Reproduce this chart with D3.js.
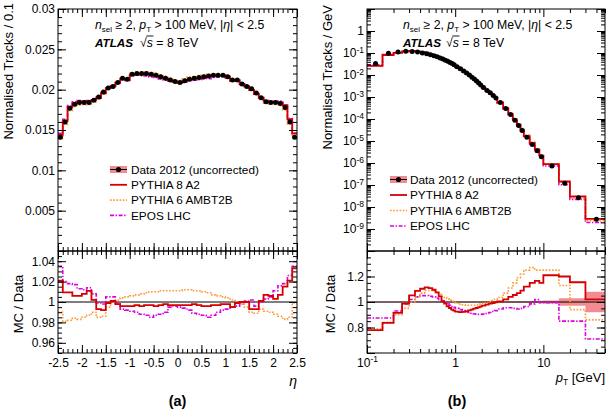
<!DOCTYPE html>
<html><head><meta charset="utf-8">
<script src="https://cdn.jsdelivr.net/npm/d3@7/dist/d3.min.js"></script>
<style>
html,body{margin:0;padding:0;background:#fff;}
svg text{font-family:"Liberation Sans",Arial,Helvetica,sans-serif;fill:#000;white-space:pre;}
</style></head>
<body>
<svg id="chart" width="610" height="410" xml:space="preserve"></svg>
<script>
// ================= DATA =================
const seriesNames = ["Data 2012 (uncorrected)", "PYTHIA 8 A2", "PYTHIA 6 AMBT2B", "EPOS LHC"];

// eta distribution: 50 bins of 0.1
const etaEdges = [-2.5,-2.4,-2.3,-2.2,-2.1,-2.0,-1.9,-1.8,-1.7,-1.6,-1.5,-1.4,-1.3,-1.2,-1.1,-1.0,-0.9,-0.8,-0.7,-0.6,-0.5,-0.4,-0.3,-0.2,-0.1,0,
  0.1,0.2,0.3,0.4,0.5,0.6,0.7,0.8,0.9,1.0,1.1,1.2,1.3,1.4,1.5,1.6,1.7,1.8,1.9,2.0,2.1,2.2,2.3,2.4,2.5];
const etaData = [0.0141,0.0160,0.0177,0.0182,0.0184,0.0184,0.0184,0.0187,0.0191,0.0197,0.0202,0.0204,0.0209,0.0214,0.0213,0.0219,0.0220,0.0220,0.0220,0.0219,0.0218,0.0216,0.0214,0.0212,0.0210,
  0.0209,0.0211,0.0213,0.0214,0.0215,0.0216,0.0217,0.0218,0.0218,0.0218,0.0216,0.0212,0.0212,0.0207,0.0204,0.0201,0.0196,0.0190,0.0185,0.0184,0.0184,0.0183,0.0178,0.0160,0.0141];
const etaRatioPythia8 = [1.021,1.0095,1.0095,1.006,1.006,1.008,1.011,1.002,0.993,0.992,0.999,1.001,0.998,0.996,0.996,0.996,0.997,0.996,0.997,0.997,0.996,0.997,0.998,0.997,0.997,
  0.997,0.997,0.997,0.998,0.997,0.996,0.996,0.997,0.997,0.998,0.998,0.995,0.999,1.000,1.000,0.993,0.993,1.001,1.007,1.006,1.003,1.007,1.015,1.021,1.033];
const etaRatioPythia6 = [0.990,0.981,0.982,0.984,0.983,0.985,0.987,0.990,0.985,0.986,0.995,1.000,1.002,1.004,1.005,1.006,1.007,1.008,1.009,1.010,1.010,1.011,1.011,1.011,1.011,
  1.011,1.012,1.012,1.011,1.011,1.010,1.009,1.007,1.006,1.005,1.004,1.002,1.000,0.998,0.995,0.990,0.989,0.993,0.991,0.990,0.988,0.986,0.983,0.985,0.999];
const etaRatioEpos = [1.035,1.020,1.018,1.017,1.013,1.012,1.014,1.008,0.999,0.998,1.005,1.005,0.999,0.993,0.992,0.991,0.990,0.988,0.987,0.985,0.987,0.988,0.990,0.995,0.996,
  0.995,0.994,0.992,0.989,0.988,0.987,0.985,0.987,0.990,0.992,0.993,0.995,0.996,0.998,1.001,1.002,0.996,1.000,1.003,1.005,1.011,1.016,1.018,1.026,1.035];

// pT distribution: 47 variable-width bins [GeV]
const ptEdges = [0.1,0.15,0.2,0.25,0.3,0.35,0.4,0.45,0.5,0.55,0.6,0.65,0.7,0.75,0.8,0.85,0.9,0.95,1.0,
  1.1,1.2,1.3,1.4,1.5,1.6,1.7,1.8,1.9,2.0,2.2,2.4,2.6,2.8,3.0,3.5,4.0,4.5,5.0,5.5,6.0,7.0,8.0,9.0,10,15,20,30,50];
const ptData = [0.033,0.097,0.112,0.120,0.118,0.110,0.101,0.092,0.083,0.075,0.067,0.060,0.053,0.047,0.042,0.037,0.033,0.029,
  0.024,0.0190,0.0152,0.0122,0.0099,0.0080,0.0065,0.0053,0.0043,0.0035,
  0.0027,0.0020,0.00155,0.00118,0.00090,
  0.00056,0.00030,0.000160,0.000088,0.000050,0.000030,
  0.0000150,0.0000070,0.0000036,0.0000019,
  7.3e-7,1.2e-7,2.6e-8,2.8e-9];
const ptDataRelErr = [0.004,0.004,0.004,0.004,0.004,0.004,0.004,0.004,0.004,0.004,0.004,0.004,0.004,0.004,0.004,0.004,0.004,0.004,
  0.004,0.004,0.004,0.004,0.004,0.004,0.004,0.004,0.004,0.004,
  0.005,0.005,0.005,0.005,0.005,
  0.005,0.005,0.005,0.006,0.006,0.006,
  0.006,0.007,0.008,0.009,
  0.012,0.03,0.03,0.08];
const ptRatioPythia8 = [0.78,0.836,0.914,0.987,1.052,1.088,1.104,1.114,1.109,1.096,1.075,1.044,1.005,0.987,0.966,0.953,0.940,0.932,
  0.925,0.920,0.922,0.927,0.935,0.940,0.948,0.953,0.958,0.964,
  0.971,0.979,0.987,0.992,0.997,
  1.005,1.020,1.040,1.055,1.070,1.090,
  1.120,1.150,1.165,1.150,
  1.210,1.200,1.155,1.020];
const ptRatioPythia6 = [0.79,0.84,0.90,0.95,1.00,1.04,1.07,1.09,1.09,1.085,1.075,1.06,1.045,1.035,1.025,1.015,1.005,0.998,
  0.990,0.983,0.978,0.975,0.974,0.974,0.975,0.977,0.980,0.983,
  0.988,0.995,1.003,1.012,1.022,
  1.035,1.070,1.110,1.150,1.190,1.220,
  1.250,1.270,1.250,1.250,
  1.250,1.130,0.940,0.860];
const ptRatioEpos = [0.875,0.875,0.93,0.985,1.02,1.04,1.05,1.05,1.045,1.04,1.03,1.02,1.01,0.995,0.985,0.975,0.965,0.958,
  0.950,0.940,0.932,0.925,0.918,0.912,0.908,0.905,0.903,0.903,
  0.905,0.910,0.918,0.925,0.932,
  0.945,0.955,0.955,0.950,0.945,0.950,
  0.965,0.985,1.020,0.995,
  0.995,0.850,0.850,0.710];

// tick labels
const etaTickLabels = ["-2.5","-2","-1.5","-1","-0.5","0","0.5","1","1.5","2","2.5"];
const etaYTickLabels = ["0.005","0.01","0.015","0.02","0.025","0.03"];
const etaRatioTickLabels = ["0.96","0.98","1","1.02","1.04"];
const ptRatioTickLabels = ["0.8","1","1.2"];

// ================= STYLE / LAYOUT =================
const FONT = '"Liberation Sans",Arial,Helvetica,sans-serif';
const mcStyle = [
  {color:"#d50000", width:1.8, dash:null},
  {color:"#ff9933", width:1.6, dash:"1.6,1.6"},
  {color:"#e000e0", width:1.6, dash:"4,1.6,1.4,1.6"}
];
const bandColor = "#f27f86";
const L = {x0:58, x1:297}, R = {x0:367, x1:605};
const TOP = {y0:9, y1:251}, RAT = {y0:251, y1:353};

const svg = d3.select("#chart");

// ================= SCALES =================
const xEta = d3.scaleLinear().domain([-2.5,2.5]).range([L.x0,L.x1]);
const yEta = d3.scaleLinear().domain([0,0.03]).range([TOP.y1,TOP.y0]);
const yEtaR = d3.scaleLinear().domain([0.95,1.05]).range([RAT.y1,RAT.y0]);
const xPt = d3.scaleLog().domain([0.1,50]).range([R.x0,R.x1]);
const yPt = d3.scaleLog().domain([1e-10,10]).range([TOP.y1,TOP.y0]);
const yPtR = d3.scaleLinear().domain([0.6,1.4]).range([RAT.y1,RAT.y0]);

// ================= HELPERS =================
function stepPoints(edges, vals){
  const pts = [];
  vals.forEach((v,i)=>{ pts.push([edges[i],v]); pts.push([edges[i+1],v]); });
  return pts;
}
let clipN = 0;
function clipGroup(x0,y0,x1,y1){
  const id = "clip"+(clipN++);
  svg.append("clipPath").attr("id",id).append("rect")
    .attr("x",x0).attr("y",y0).attr("width",x1-x0).attr("height",y1-y0);
  return svg.append("g").attr("clip-path","url(#"+id+")");
}
function drawStep(g, xs, ys, edges, vals, st){
  const line = d3.line().x(d=>xs(d[0])).y(d=>ys(d[1]));
  g.append("path").attr("d", line(stepPoints(edges, vals)))
    .attr("fill","none").attr("stroke",st.color).attr("stroke-width",st.width)
    .attr("stroke-dasharray",st.dash).attr("stroke-linejoin","miter");
}
function axisSide(scale, side, pos, majors, minors, fmt, pad){
  const mk = {left:d3.axisLeft, right:d3.axisRight, top:d3.axisTop, bottom:d3.axisBottom}[side];
  const tr = (side==="left"||side==="right") ? `translate(${pos},0)` : `translate(0,${pos})`;
  const gmin = svg.append("g").attr("transform",tr)
    .call(mk(scale).tickValues(minors).tickSize(-4).tickFormat(()=>""));
  const gmaj = svg.append("g").attr("transform",tr)
    .call(mk(scale).tickValues(majors).tickSize(-8).tickPadding(pad||3).tickFormat(fmt||(()=>"")));
  [gmin,gmaj].forEach(g=>{
    g.select(".domain").remove();
    g.attr("font-family",FONT).attr("font-size",12);
    g.selectAll("line").attr("stroke","#000");
    g.selectAll("text").attr("fill","#000");
  });
  return gmaj;
}
function frame(x0,y0,x1,y1){
  svg.append("rect").attr("x",x0).attr("y",y0).attr("width",x1-x0).attr("height",y1-y0)
    .attr("fill","none").attr("stroke","#000").attr("stroke-width",1);
}
function sciFormat(sel){
  sel.selectAll(".tick text").each(function(d){
    const e = Math.round(Math.log10(d));
    const t = d3.select(this);
    t.text(null);
    if(e===0){ t.text("1"); return; }
    if(e===1){ t.text("10"); return; }
    t.append("tspan").text("10");
    t.append("tspan").attr("dy","-0.5em").attr("font-size","8.5px").text("-"+(-e));
  });
}
function logMinors(lo, hi){
  const out=[];
  for(let e=lo;e<hi;e++) for(let k=2;k<=9;k++){ const v=k*Math.pow(10,e); out.push(v); }
  return out;
}
function annotation(x, y1, y2, xs){
  const t = svg.append("text").attr("x",x).attr("y",y1).attr("font-size",12.3);
  t.append("tspan").attr("font-style","italic").text("n");
  t.append("tspan").attr("font-size","8px").attr("dy",3).text("sel");
  t.append("tspan").attr("dy",-3).text(" \u2265 2, ");
  t.append("tspan").attr("font-style","italic").text("p");
  t.append("tspan").attr("font-size","8px").attr("dy",3).text("T");
  t.append("tspan").attr("dy",-3).text(" > 100 MeV, |");
  t.append("tspan").attr("font-style","italic").text("\u03b7");
  t.append("tspan").text("| < 2.5");
  svg.append("text").attr("x",x).attr("y",y2).attr("font-size",11.7)
    .attr("font-weight","bold").attr("font-style","italic").text("ATLAS");
  const a = svg.append("text").attr("x",xs).attr("y",y2).attr("font-size",12.3).text("\u221a");
  const w1 = a.node().getComputedTextLength();
  const s = svg.append("text").attr("x",xs+w1).attr("y",y2).attr("font-size",12.3)
    .attr("font-style","italic").text("s");
  const w2 = s.node().getComputedTextLength();
  svg.append("line").attr("x1",xs+w1-0.5).attr("x2",xs+w1+w2+0.5)
    .attr("y1",y2-10.5).attr("y2",y2-10.5).attr("stroke","#000").attr("stroke-width",0.9);
  svg.append("text").attr("x",xs+w1+w2+3.4).attr("y",y2).attr("font-size",12.3).text("= 8 TeV");
}
function legend(x, y0, dy, tx){
  const g = svg.append("g");
  seriesNames.forEach((name,i)=>{
    const y = y0 + i*dy;
    if(i===0){
      g.append("rect").attr("x",x).attr("y",y-3.5).attr("width",17).attr("height",7)
        .attr("fill",bandColor).attr("opacity",0.9);
      g.append("line").attr("x1",x).attr("x2",x+17).attr("y1",y).attr("y2",y).attr("stroke","#000").attr("stroke-width",1);
      g.append("circle").attr("cx",x+8.5).attr("cy",y).attr("r",2.6).attr("fill","#000");
    } else {
      const st = mcStyle[i-1];
      g.append("line").attr("x1",x).attr("x2",x+17).attr("y1",y).attr("y2",y)
        .attr("stroke",st.color).attr("stroke-width",st.width).attr("stroke-dasharray",st.dash);
    }
    g.append("text").attr("x",tx).attr("y",y+4.3).attr("font-size",11.8).text(name);
  });
}
function rotTitle(x, y, anchor, txt){
  svg.append("text").attr("transform",`translate(${x},${y}) rotate(-90)`)
    .attr("text-anchor",anchor).attr("font-size",13).text(txt);
}

// ================= LEFT PANEL (eta) =================
const etaCenters = etaData.map((v,i)=>(etaEdges[i]+etaEdges[i+1])/2);
const etaRatios = [etaRatioPythia8, etaRatioPythia6, etaRatioEpos];
// MC predictions in the main panel = data x (MC/Data)
const etaMC = etaRatios.map(r=>etaData.map((v,i)=>v*r[i]));

const gLT = clipGroup(L.x0,TOP.y0,L.x1,TOP.y1);
[2,1,0].forEach(k=>drawStep(gLT, xEta, yEta, etaEdges, etaMC[k], mcStyle[k]));
gLT.selectAll("circle.d").data(etaData).join("circle")
  .attr("cx",(d,i)=>xEta(etaCenters[i])).attr("cy",d=>yEta(d)).attr("r",2.5).attr("fill","#000");

const gLR = clipGroup(L.x0,RAT.y0,L.x1,RAT.y1);
gLR.append("line").attr("x1",L.x0).attr("x2",L.x1).attr("y1",yEtaR(1)).attr("y2",yEtaR(1))
  .attr("stroke","#000").attr("stroke-width",1.2);
[2,1,0].forEach(k=>drawStep(gLR, xEta, yEtaR, etaEdges, etaRatios[k], mcStyle[k]));

// axes left
const etaMajX = etaTickLabels.map(Number);
const etaMinX = d3.range(-25,26).map(i=>i/10);
const etaMajY = [0].concat(etaYTickLabels.map(Number));
const etaMinY = d3.range(0,31).map(i=>i/1000);
axisSide(yEta,"left",L.x0,etaMajY,etaMinY,d=>d===0?"":etaYTickLabels[etaMajY.indexOf(d)-1],3);
axisSide(yEta,"right",L.x1,etaMajY,etaMinY);
axisSide(xEta,"top",TOP.y0,etaMajX,etaMinX);
axisSide(xEta,"bottom",TOP.y1,etaMajX,etaMinX);
const etaRMaj = etaRatioTickLabels.map(Number);
const etaRMin = d3.range(950,1051,5).map(i=>i/1000);
axisSide(yEtaR,"left",L.x0,etaRMaj,etaRMin,d=>etaRatioTickLabels[etaRMaj.indexOf(d)],3);
axisSide(yEtaR,"right",L.x1,etaRMaj,etaRMin);
axisSide(xEta,"top",RAT.y0,etaMajX,etaMinX);
axisSide(xEta,"bottom",RAT.y1,etaMajX,etaMinX,d=>etaTickLabels[etaMajX.indexOf(d)],5);
frame(L.x0,TOP.y0,L.x1,TOP.y1);
frame(L.x0,RAT.y0,L.x1,RAT.y1);

// ================= RIGHT PANEL (pT) =================
const ptCenters = ptData.map((v,i)=>(ptEdges[i]+ptEdges[i+1])/2);
const ptRatios = [ptRatioPythia8, ptRatioPythia6, ptRatioEpos];
const ptMC = ptRatios.map(r=>ptData.map((v,i)=>v*r[i]));

const gRT = clipGroup(R.x0,TOP.y0,R.x1,TOP.y1);
[2,1,0].forEach(k=>drawStep(gRT, xPt, yPt, ptEdges, ptMC[k], mcStyle[k]));
gRT.selectAll("circle.d").data(ptData).join("circle")
  .attr("cx",(d,i)=>xPt(ptCenters[i])).attr("cy",d=>yPt(d)).attr("r",2.5).attr("fill","#000");

const gRR = clipGroup(R.x0,RAT.y0,R.x1,RAT.y1);
const bandArea = d3.area().x(d=>xPt(d[0])).y0(d=>yPtR(1-d[1])).y1(d=>yPtR(1+d[1]));
gRR.append("path").attr("d",bandArea(stepPoints(ptEdges,ptDataRelErr))).attr("fill",bandColor).attr("opacity",0.9);
gRR.append("line").attr("x1",R.x0).attr("x2",R.x1).attr("y1",yPtR(1)).attr("y2",yPtR(1))
  .attr("stroke","#000").attr("stroke-width",1.2);
[2,1,0].forEach(k=>drawStep(gRR, xPt, yPtR, ptEdges, ptRatios[k], mcStyle[k]));

const ptMajX = [0.1,1,10];
const ptMinX = logMinors(-1,2).filter(v=>v<=50.001);
const ptMajY = d3.range(-10,2).map(e=>Math.pow(10,e));
const ptMinY = logMinors(-10,1);
const gyl = axisSide(yPt,"left",R.x0,ptMajY,ptMinY,d=>"x",3);
gyl.selectAll(".tick").filter(d=>d<1e-9*0.99 || d>1.01).select("text").remove();
sciFormat(gyl);
axisSide(yPt,"right",R.x1,ptMajY,ptMinY);
axisSide(xPt,"top",TOP.y0,ptMajX,ptMinX);
axisSide(xPt,"bottom",TOP.y1,ptMajX,ptMinX);
const ptRMaj = [0.6,0.8,1,1.2,1.4];
const ptRMin = d3.range(60,141,5).map(i=>i/100);
axisSide(yPtR,"left",R.x0,ptRMaj,ptRMin,d=>{const j=ptRatioTickLabels.map(Number).indexOf(d);return j<0?"":ptRatioTickLabels[j];},3);
axisSide(yPtR,"right",R.x1,ptRMaj,ptRMin);
axisSide(xPt,"top",RAT.y0,ptMajX,ptMinX);
const gxb = axisSide(xPt,"bottom",RAT.y1,ptMajX,ptMinX,d=>"x",5);
sciFormat(gxb);
frame(R.x0,TOP.y0,R.x1,TOP.y1);
frame(R.x0,RAT.y0,R.x1,RAT.y1);

// ================= TEXT =================
annotation(95, 29, 46.5, 140);
annotation(403, 29, 46.5, 446);
legend(110, 169.5, 15.3, 131);
legend(390, 179.5, 15.5, 410);

rotTitle(12.5, 3, "end", "Normalised Tracks / 0.1");
rotTitle(332, 5, "end", "Normalised Tracks / GeV");
rotTitle(22.5, (RAT.y0+RAT.y1)/2+2, "middle", "MC / Data");
rotTitle(334.5, (RAT.y0+RAT.y1)/2+2, "middle", "MC / Data");

svg.append("text").attr("x",L.x1).attr("y",386).attr("text-anchor","end")
  .attr("font-size",14).attr("font-style","italic").text("\u03b7");
const pt = svg.append("text").attr("x",R.x1).attr("y",382).attr("text-anchor","end").attr("font-size",13);
pt.append("tspan").attr("font-style","italic").text("p");
pt.append("tspan").attr("font-size","8.5px").attr("dy",3).text("T");
pt.append("tspan").attr("dy",-3).text(" [GeV]");

svg.append("text").attr("x",(L.x0+L.x1)/2).attr("y",406).attr("text-anchor","middle")
  .attr("font-size",14.5).attr("font-weight","bold").text("(a)");
svg.append("text").attr("x",457).attr("y",406).attr("text-anchor","middle")
  .attr("font-size",14.5).attr("font-weight","bold").text("(b)");
</script>
</body></html>
